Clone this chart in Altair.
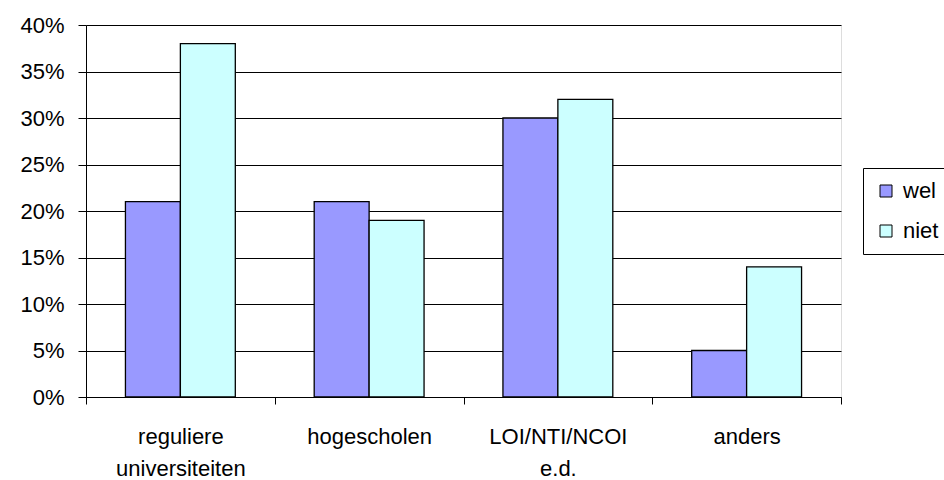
import altair as alt
import pandas as pd

# Survey shares per type of institution, split by group
categories = ["reguliere|universiteiten", "hogescholen", "LOI/NTI/NCOI|e.d.", "anders"]
groups = ["wel", "niet"]
wel = [0.21, 0.21, 0.30, 0.05]
niet = [0.38, 0.19, 0.32, 0.14]
colors = ["#9999FF", "#CCFFFF"]
y_ticks = [0, 0.05, 0.10, 0.15, 0.20, 0.25, 0.30, 0.35, 0.40]

rows = []
for cat, a, b in zip(categories, wel, niet):
    rows.append({"categorie": cat, "groep": "wel", "aandeel": a})
    rows.append({"categorie": cat, "groep": "niet", "aandeel": b})
df = pd.DataFrame(rows)

FONT = "Liberation Sans"
SIZE = 22

chart = (
    alt.Chart(df)
    .mark_bar(stroke="black", strokeWidth=1.3)
    .encode(
        x=alt.X(
            "categorie:N",
            sort=categories,
            title=None,
            scale=alt.Scale(paddingInner=0, paddingOuter=0),
            axis=alt.Axis(
                labelAngle=0,
                labelExpr="split(datum.label, '|')",
                labelLineHeight=32,
                labelFont=FONT,
                labelFontSize=SIZE,
                labelColor="black",
                labelPadding=22,
                tickBand="extent",
                tickSize=7,
                tickColor="black",
                domainColor="black",
                domainWidth=1,
                grid=False,
            ),
        ),
        # two bars centred in each category, with wide gaps on either side
        xOffset=alt.XOffset(
            "groep:N", sort=groups, scale=alt.Scale(paddingInner=0, paddingOuter=0.718)
        ),
        y=alt.Y(
            "aandeel:Q",
            title=None,
            scale=alt.Scale(domain=[0, 0.4], nice=False),
            axis=alt.Axis(
                values=y_ticks,
                format=".0%",
                labelFont=FONT,
                labelFontSize=SIZE,
                labelColor="black",
                labelPadding=14,
                tickSize=8,
                tickColor="black",
                domainColor="black",
                gridColor="#000000",
                gridWidth=1,
            ),
        ),
        color=alt.Color(
            "groep:N",
            sort=groups,
            scale=alt.Scale(domain=groups, range=colors),
            legend=alt.Legend(
                title=None,
                orient="none",
                legendX=777,
                legendY=143,
                symbolType="square",
                symbolSize=144,
                symbolStrokeColor="black",
                symbolStrokeWidth=1,
                labelFont=FONT,
                labelFontSize=SIZE,
                labelColor="black",
                labelOffset=6,
                rowPadding=18,
                padding=12,
                strokeColor="black",
                fillColor="white",
            ),
        ),
    )
    .properties(
        width=755,
        height=372,
        autosize=alt.AutoSizeParams(type="none"),
        padding={"left": 86, "top": 25, "right": 103, "bottom": 83},
    )
    .configure_view(stroke="#808080", strokeWidth=1)
    .configure(background="white")
)

chart.save("out.html", embed_options={"renderer": "svg", "actions": False})
